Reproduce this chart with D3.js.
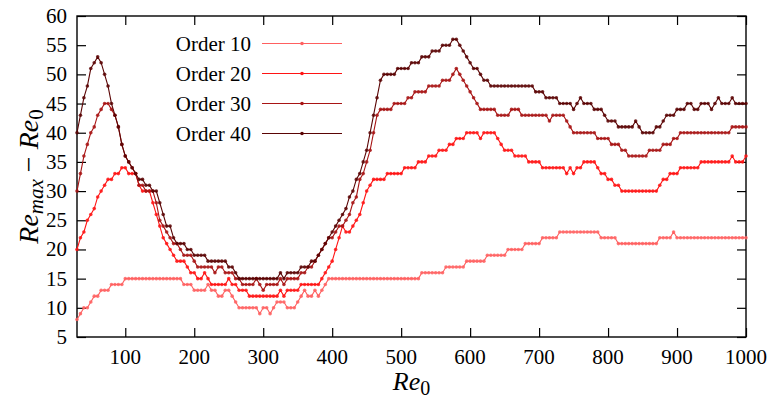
<!DOCTYPE html>
<html>
<head>
<meta charset="utf-8">
<script src="https://cdn.jsdelivr.net/npm/d3@7/dist/d3.min.js"></script>
</head>
<body style="margin:0">
<svg id="chart" width="769" height="400" style="display:block;font-family:'Liberation Serif'" font-family="Liberation Serif"></svg>
<script>
// ---- data (Re0 sampled every 5 from 30 to 1000) ----
const re0 = d3.range(30, 1001, 5);

const order10 = [
  8,9,10,10,11,12,12,13,13,13,
  14,14,14,14,15,15,15,15,15,15,
  15,15,15,15,15,15,15,15,15,15,
  15,14,14,14,13,13,13,13,14,13,
  13,12,12,13,13,12,11,10,10,10,
  10,10,10,9,10,10,9,10,11,11,
  11,10,10,10,11,12,13,12,12,13,
  12,13,14,15,15,15,15,15,15,15,
  15,15,15,15,15,15,15,15,15,15,
  15,15,15,15,15,15,15,15,15,15,
  16,16,16,16,16,16,16,17,17,17,
  17,17,17,18,18,18,18,18,18,19,
  19,19,19,19,19,20,20,20,20,20,
  21,21,21,21,21,22,22,22,22,22,
  23,23,23,23,23,23,23,23,23,23,
  23,23,22,22,22,22,22,21,21,21,
  21,21,21,21,21,21,21,21,21,22,
  22,22,22,23,22,22,22,22,22,22,
  22,22,22,22,22,22,22,22,22,22,
  22,22,22,22,22
];

const order20 = [
  20,22,23,25,26,27,29,30,31,32,
  32,33,33,34,34,33,33,33,31,30,
  30,30,28,26,24,22,21,20,19,18,
  18,18,17,16,16,15,15,16,15,14,
  14,14,14,14,15,14,14,13,13,13,
  12,12,12,12,12,12,12,12,12,13,
  12,13,13,13,13,14,14,14,14,14,
  14,15,16,17,18,20,22,24,23,23,
  24,25,26,28,30,31,32,32,32,32,
  33,33,33,33,33,34,34,34,34,35,
  35,35,36,36,36,37,37,37,38,38,
  39,39,39,40,40,40,40,39,40,40,
  40,40,39,38,37,37,37,36,36,36,
  36,35,35,35,35,34,34,34,34,34,
  34,34,33,34,33,34,34,35,35,35,
  35,34,33,33,32,32,31,31,30,30,
  30,30,30,30,30,30,30,30,30,31,
  32,32,33,33,33,34,34,34,34,34,
  34,35,35,35,35,35,35,35,35,35,
  36,35,35,35,36
];

const order30 = [
  30,33,36,38,40,41,43,44,45,45,
  44,43,41,38,36,35,34,33,31,31,
  30,30,30,28,25,24,23,22,21,21,
  20,19,19,19,18,17,17,17,17,17,
  16,17,17,16,16,16,15,15,14,14,
  14,14,15,14,13,14,14,14,14,15,
  14,15,15,15,15,16,16,17,17,18,
  19,20,21,22,22,23,24,24,25,26,
  28,29,32,33,35,37,40,43,44,44,
  44,44,45,45,45,45,46,46,47,47,
  47,47,48,48,48,48,49,49,49,50,
  51,50,49,48,47,46,45,44,44,44,
  44,44,43,43,43,43,44,44,44,43,
  43,43,43,43,43,43,43,42,43,43,
  43,43,42,41,40,40,40,40,40,40,
  40,39,39,39,39,38,38,38,37,37,
  36,36,36,36,36,36,37,37,37,37,
  38,38,38,39,39,40,40,40,40,40,
  40,40,40,40,40,40,40,40,40,40,
  41,41,41,41,41
];

const order40 = [
  40,43,46,48,51,52,53,52,50,48,
  45,43,41,38,36,35,34,33,32,32,
  31,31,30,30,28,26,24,24,22,21,
  21,21,20,20,19,19,19,19,18,18,
  18,18,18,18,17,17,16,15,15,15,
  15,15,15,15,15,15,15,15,15,16,
  15,16,16,16,16,17,17,17,18,18,
  19,20,21,22,23,24,25,26,27,29,
  30,32,33,35,37,40,43,46,49,50,
  50,50,50,51,51,51,51,52,52,52,
  53,53,53,54,54,54,55,55,55,56,
  56,55,54,53,52,51,51,50,49,49,
  48,48,48,48,48,48,48,48,48,48,
  48,48,48,47,47,47,46,46,46,46,
  45,45,45,45,44,45,46,45,45,45,
  44,44,44,43,42,42,42,41,41,41,
  41,41,42,41,40,40,40,40,41,41,
  42,43,43,43,44,44,44,45,45,44,
  44,45,45,45,44,45,46,45,45,45,
  46,45,45,45,45
];

const seriesNames = ["Order 10", "Order 20", "Order 30", "Order 40"];
const seriesColors = ["#ff6060", "#ff1414", "#a81414", "#5a0404"];
const xTicks = [100, 200, 300, 400, 500, 600, 700, 800, 900, 1000];
const yTicks = [5, 10, 15, 20, 25, 30, 35, 40, 45, 50, 55, 60];

// ---- layout ----
const FONT = "'Liberation Serif'";
const svg = d3.select("#chart");
svg.append("style").text("text, tspan { font-family: 'Liberation Serif', 'Times New Roman'; }");
const mLeft = 77, mRight = 746, mTop = 16, mBottom = 337;

const x = d3.scaleLinear().domain([30, 1000]).range([mLeft, mRight]);
const y = d3.scaleLinear().domain([5, 60]).range([mBottom, mTop]);

const tickLen = 9;
const FS = "21px";

function addText(parent) {
  return parent.append("text").attr("font-family", "Liberation Serif")
    .style("font-family", FONT).style("font-size", FS).style("fill", "#000");
}

// axes: tick marks (inward, mirrored) drawn by d3-axis, labels drawn as plain texts
const gB = svg.append("g").attr("transform", `translate(0,${mBottom})`)
  .call(d3.axisBottom(x).tickValues(xTicks).tickSizeInner(-tickLen).tickSizeOuter(0).tickFormat(""));
const gT = svg.append("g").attr("transform", `translate(0,${mTop})`)
  .call(d3.axisTop(x).tickValues(xTicks).tickSizeInner(-tickLen).tickSizeOuter(0).tickFormat(""));
const gL = svg.append("g").attr("transform", `translate(${mLeft},0)`)
  .call(d3.axisLeft(y).tickValues(yTicks).tickSizeInner(-tickLen).tickSizeOuter(0).tickFormat(""));
const gR = svg.append("g").attr("transform", `translate(${mRight},0)`)
  .call(d3.axisRight(y).tickValues(yTicks).tickSizeInner(-tickLen).tickSizeOuter(0).tickFormat(""));
[gB, gT, gL, gR].forEach(g => {
  g.attr("font-family", null).attr("font-size", null);
  g.select(".domain").remove();
  g.selectAll(".tick text").remove();
  g.selectAll(".tick line").attr("stroke", "#000").attr("stroke-width", 1.2);
});

xTicks.forEach(v => {
  addText(svg).attr("x", x(v)).attr("y", 364).attr("text-anchor", "middle").text(String(v));
});
yTicks.forEach(v => {
  addText(svg).attr("x", mLeft - 10).attr("y", y(v) + 7).attr("text-anchor", "end").text(String(v));
});

// frame
svg.append("rect").attr("x", mLeft).attr("y", mTop)
  .attr("width", mRight - mLeft).attr("height", mBottom - mTop)
  .attr("fill", "none").attr("stroke", "#000").attr("stroke-width", 1.4);

// series
const allSeries = [order10, order20, order30, order40];
const line = d3.line().x((d, i) => x(re0[i])).y(d => y(d));
const plot = svg.append("g");
allSeries.forEach((vals, k) => {
  const g = plot.append("g");
  g.append("path").datum(vals).attr("d", line)
    .attr("fill", "none").attr("stroke", seriesColors[k]).attr("stroke-width", 1.1);
  g.selectAll("circle").data(vals).join("circle")
    .attr("cx", (d, i) => x(re0[i])).attr("cy", d => y(d)).attr("r", 1.8)
    .attr("fill", seriesColors[k]).attr("fill-opacity", 0.85);
});

// legend
const legX0 = 262, legX1 = 342, legTextX = 251, legY0 = 43.5, legDy = 30;
seriesNames.forEach((name, k) => {
  const yy = legY0 + k * legDy;
  addText(svg).attr("x", legTextX).attr("y", yy + 7).attr("text-anchor", "end").text(name);
  svg.append("line").attr("x1", legX0).attr("x2", legX1).attr("y1", yy).attr("y2", yy)
    .attr("stroke", seriesColors[k]).attr("stroke-width", 1.1);
  svg.append("circle").attr("cx", (legX0 + legX1) / 2).attr("cy", yy).attr("r", 1.8)
    .attr("fill", seriesColors[k]);
});

// axis titles
const xt = addText(svg).attr("x", (mLeft + mRight) / 2).attr("y", 390)
  .attr("text-anchor", "middle").style("font-size", "26px");
xt.append("tspan").style("font-style", "italic").text("Re");
xt.append("tspan").style("font-size", "20px").attr("dy", 5).text("0");

const yt = addText(svg).attr("transform", `translate(38,${(mTop + mBottom) / 2}) rotate(-90)`)
  .attr("text-anchor", "middle").style("font-size", "28px");
yt.append("tspan").style("font-style", "italic").text("Re");
yt.append("tspan").style("font-style", "italic").style("font-size", "21px").attr("dy", 5).text("max");
yt.append("tspan").attr("dy", -5).text(" \u2212 ");
yt.append("tspan").style("font-style", "italic").text("Re");
yt.append("tspan").style("font-size", "21px").attr("dy", 5).text("0");
</script>
</body>
</html>
